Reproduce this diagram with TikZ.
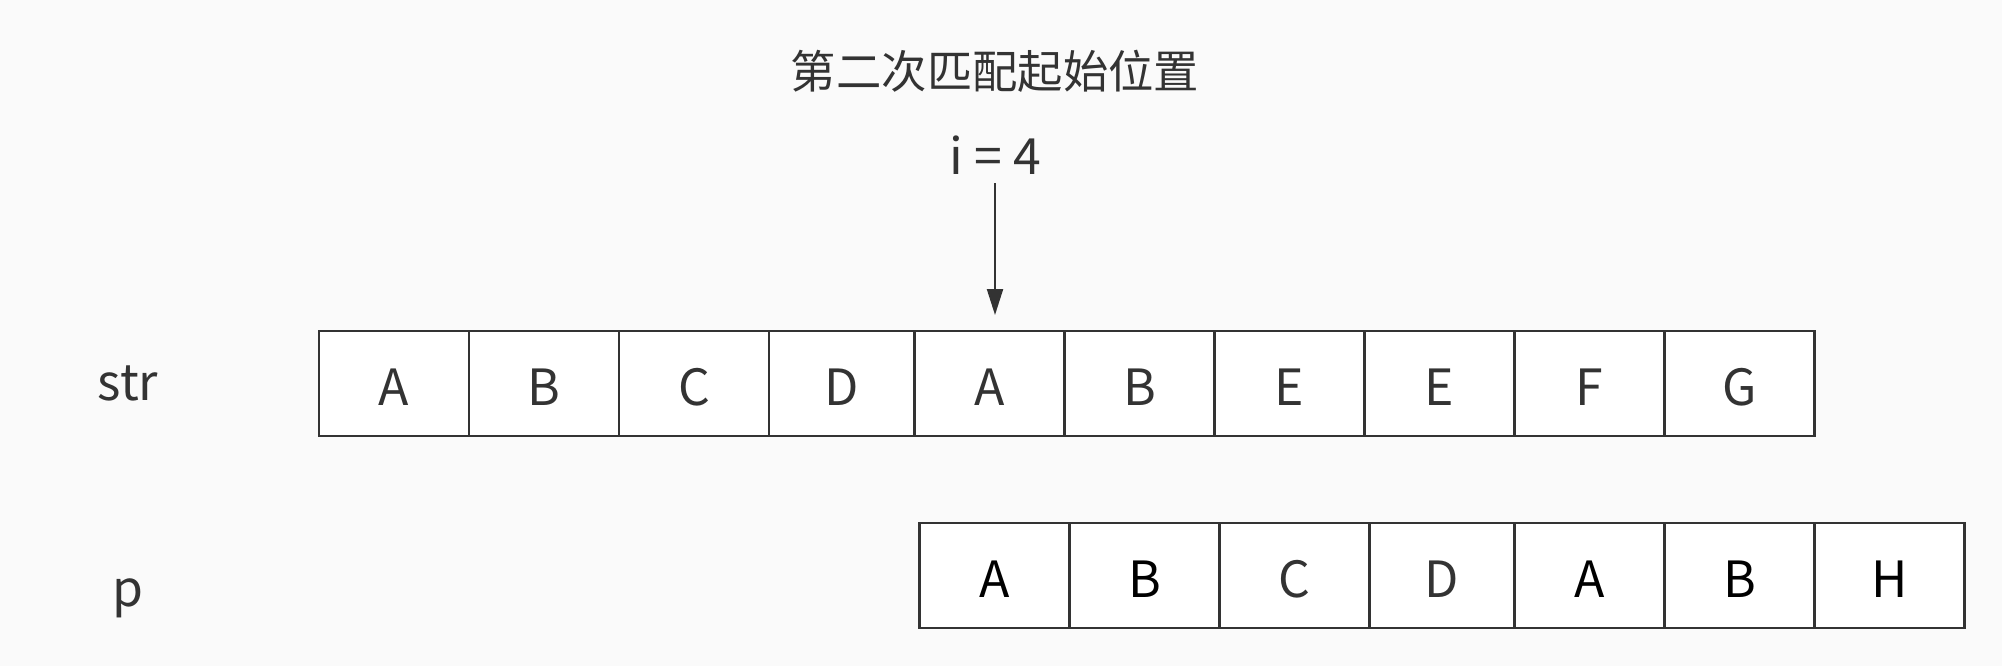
\documentclass[tikz,border=0pt]{standalone}
\usepackage{fontspec}
\setmainfont{Noto Sans CJK SC}
\usetikzlibrary{arrows.meta}

\definecolor{ink}{HTML}{333333}
\definecolor{paper}{HTML}{FAFAFA}

\tikzset{
    cell/.style={draw=ink, fill=white, line width=0.6pt, anchor=north west,
        inner sep=0pt, outer sep=0pt, minimum height=10.5mm, text=ink,
        text height=4.4mm, text depth=0pt,
        font=\fontsize{14.2}{17}\selectfont},
    tag/.style={text=ink, inner sep=0pt, font=\fontsize{14.2}{17}\selectfont},
    arr/.style={draw=ink, line width=0.6pt, -{Triangle[length=2.6mm, width=1.6mm]}}
}

\begin{document}
\begin{tikzpicture}[x=0.1mm, y=-0.1mm]
    % background, fixes the size of the page
    \fill[paper] (0,0) rectangle (2002,666);

    % row labels
    \node[tag] (strlabel) at (128,383) {str};
    \node[tag] (plabel) at (128,598) {p};

    % the text str
    \foreach \ch/\xl/\w [count=\i from 0] in {A/319/150, B/469/150, C/619/150,
        D/769/145.5, A/914.5/150, B/1064.5/150, E/1214.5/150, E/1364.5/150,
        F/1514.5/150, G/1664.5/150}
        \node[cell, minimum width=\w*0.1mm] (s\i) at (\xl,331) {\ch};

    % the pattern p
    \foreach \ch/\xl/\w/\col [count=\i from 0] in {A/919.5/150/black,
        B/1069.5/150/black, C/1219.5/150/ink, D/1369.5/145/ink,
        A/1514.5/150/black, B/1664.5/150/black, H/1814.5/150/black}
        \node[cell, minimum width=\w*0.1mm, text=\col] (p\i) at (\xl,523) {\ch};

    % where the second match starts
    \node[tag, font=\fontsize{12.9}{15}\selectfont] (title) at (995,71) {第二次匹配起始位置};
    \node[tag] (ilabel) at (995,155) {i = 4};
    \draw[arr, shorten <=2.8mm, shorten >=1.6mm] (ilabel.center) -- (ilabel.center |- s4.north);
\end{tikzpicture}
\end{document}
